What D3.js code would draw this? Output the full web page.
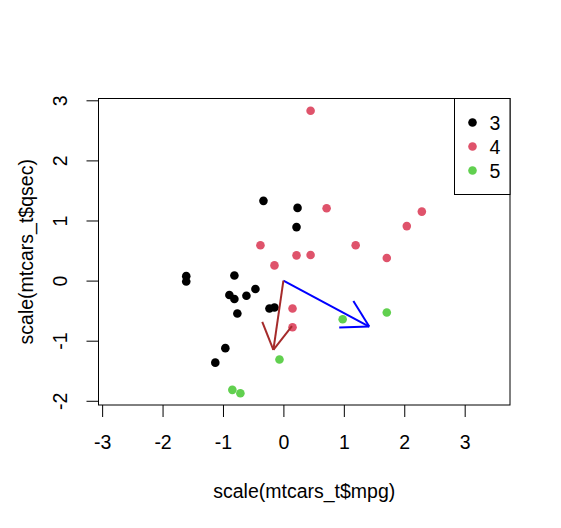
<!DOCTYPE html>
<html>
<head>
<meta charset="utf-8">
<script src="https://cdn.jsdelivr.net/npm/d3@7"></script>
<style>
  body { margin: 0; background: #fff; }
  svg text { font-family: "Liberation Sans", Arial, sans-serif; fill: #000; }
</style>
</head>
<body>
<div id="viz"></div>
<script>
// scaled mpg / qsec per car, and gear group
const xVals = [0.151, 0.151, 0.450, 0.217, -0.231, -0.330, -0.961, 0.715, 0.450, -0.148, -0.380, -0.612, -0.463, -0.811, -1.608, -1.608,
  -0.894, 2.042, 1.711, 2.291, 0.234, -0.762, -0.811, -1.127, -0.148, 1.196, 0.981, 1.711, -0.712, -0.065, -0.845, 0.217];
const yVals = [-0.777, -0.464, 0.426, 0.890, -0.464, 1.327, -1.124, 1.204, 2.827, 0.253, 0.588, -0.251, -0.139, 0.085, 0.074, -0.016,
  -0.240, 0.907, 0.376, 1.148, 1.210, -0.548, -0.307, -1.365, -0.447, 0.588, -0.643, -0.531, -1.874, -1.314, -1.818, 0.420];
const gears = [4, 4, 4, 3, 3, 3, 3, 4, 4, 4, 4, 3, 3, 3, 3, 3, 3, 4, 4, 4, 3, 3, 3, 3, 3, 4, 5, 5, 5, 5, 5, 4];

const groups = [3, 4, 5];
const groupColors = ['#000000', '#DF536B', '#61D04F'];

// arrow vectors starting at the origin
const arrowX = [1.42, -0.166];
const arrowY = [-0.764, -1.151];
const arrowColors = ['#0000FF', '#A52A2A'];

const xTicks = [-3, -2, -1, 0, 1, 2, 3];
const yTicks = [-2, -1, 0, 1, 2, 3];

(function () {
  const W = 561, H = 528;
  const fs = 19.5;
  const left = 98.5, right = 510, top = 98.5, bottom = 405;
  const fmt = (d) => String(d); // plain hyphen minus, like R

  const svg = d3.select('#viz').append('svg')
    .attr('width', W).attr('height', H);

  const x = d3.scaleLinear().domain([-3.06, 3.75]).range([left, right]);
  const y = d3.scaleLinear().domain([-2.07, 3.03]).range([bottom, top]);
  const color = d3.scaleOrdinal().domain(groups).range(groupColors);

  // Axes
  const gx = svg.append('g')
    .attr('transform', `translate(0,${bottom})`)
    .call(d3.axisBottom(x).tickValues(xTicks).tickSize(12).tickPadding(18).tickFormat(fmt));
  gx.select('.domain').remove();
  gx.selectAll('text').style('font-size', fs + 'px').style('font-family', null);

  const gy = svg.append('g')
    .attr('transform', `translate(${left},0)`)
    .call(d3.axisLeft(y).tickValues(yTicks).tickSize(12).tickFormat(fmt));
  gy.select('.domain').remove();
  gy.selectAll('text')
    .attr('x', 0).attr('y', -31.5).attr('dy', null)
    .attr('transform', 'rotate(-90)')
    .attr('text-anchor', 'middle')
    .style('font-size', fs + 'px').style('font-family', null);
  svg.selectAll('.tick line').attr('stroke', '#000');

  // Box
  svg.append('rect')
    .attr('x', left).attr('y', top)
    .attr('width', right - left).attr('height', bottom - top)
    .attr('fill', 'none').attr('stroke', '#000');

  // Axis titles
  svg.append('text')
    .attr('x', (left + right) / 2).attr('y', 498)
    .attr('text-anchor', 'middle').style('font-size', fs + 'px')
    .text('scale(mtcars_t$mpg)');
  svg.append('text')
    .attr('transform', `translate(33,${(top + bottom) / 2}) rotate(-90)`)
    .attr('text-anchor', 'middle').style('font-size', fs + 'px')
    .text('scale(mtcars_t$qsec)');

  // Points
  svg.append('g').selectAll('circle')
    .data(xVals.map((v, i) => ({ x: v, y: yVals[i], g: gears[i] })))
    .enter().append('circle')
    .attr('cx', (d) => x(d.x))
    .attr('cy', (d) => y(d.y))
    .attr('r', 4.3)
    .attr('fill', (d) => color(d.g));

  // Arrows, R style open heads
  const headLen = 30, headAng = Math.PI / 6;
  arrowX.forEach((ax, i) => {
    const x0 = x(0), y0 = y(0), x1 = x(ax), y1 = y(arrowY[i]);
    const a = Math.atan2(y0 - y1, x0 - x1);
    const g = svg.append('g')
      .attr('stroke', arrowColors[i]).attr('stroke-width', 2).attr('fill', 'none');
    g.append('line').attr('x1', x0).attr('y1', y0).attr('x2', x1).attr('y2', y1);
    [a - headAng, a + headAng].forEach((b) => {
      g.append('line')
        .attr('x1', x1).attr('y1', y1)
        .attr('x2', x1 + headLen * Math.cos(b))
        .attr('y2', y1 + headLen * Math.sin(b));
    });
  });

  // Legend
  const lx = 454.5, lTop = top, lBottom = 194.5;
  svg.append('rect')
    .attr('x', lx).attr('y', lTop)
    .attr('width', right - lx).attr('height', lBottom - lTop)
    .attr('fill', '#fff').attr('stroke', '#000');
  const items = svg.append('g').selectAll('g')
    .data(groups).enter().append('g')
    .attr('transform', (d, i) => `translate(0,${122.5 + i * 24})`);
  items.append('circle')
    .attr('cx', 472.5).attr('cy', 0).attr('r', 4.3)
    .attr('fill', (d) => color(d));
  items.append('text')
    .attr('x', 489.5).attr('y', 7)
    .style('font-size', fs + 'px')
    .text((d) => d);
})();
</script>
</body>
</html>
